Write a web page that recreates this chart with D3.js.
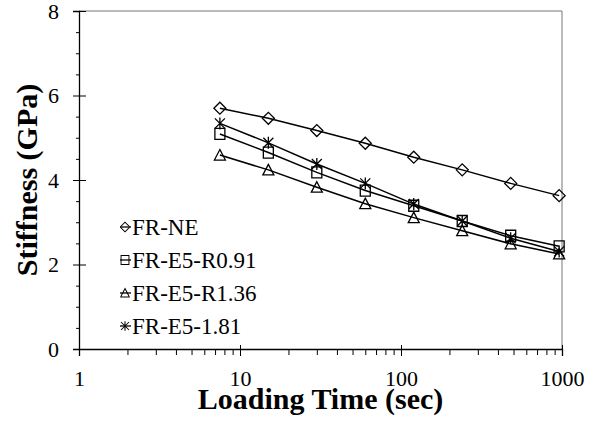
<!DOCTYPE html>
<html>
<head>
<meta charset="utf-8">
<script src="https://cdn.jsdelivr.net/npm/d3@7"></script>
<style>
  body { margin: 0; background: #fff; }
</style>
</head>
<body>
<div id="chart"></div>
<script>
// loading times (sec) and stiffness (GPa)
var times = [7.5, 15, 30, 60, 120, 240, 480, 960];
var frNE = [5.70, 5.46, 5.17, 4.87, 4.54, 4.24, 3.92, 3.63];
var frE5R091 = [5.09, 4.65, 4.18, 3.75, 3.39, 3.03, 2.68, 2.43];
var frE5R136 = [4.59, 4.24, 3.83, 3.44, 3.11, 2.80, 2.49, 2.25];
var frE5181 = [5.34, 4.88, 4.38, 3.92, 3.43, 3.03, 2.62, 2.31];
var seriesNames = ["FR-NE", "FR-E5-R0.91", "FR-E5-R1.36", "FR-E5-1.81"];
var seriesMarkers = ["diamond", "square", "triangle", "star"];
var xTicks = [1, 10, 100, 1000];
var yTicks = [0, 2, 4, 6, 8];

var FONT = "Liberation Serif, Times New Roman, serif";

var series = [frNE, frE5R091, frE5R136, frE5181].map(function(vals, i) {
  return {
    name: seriesNames[i],
    marker: seriesMarkers[i],
    points: vals.map(function(v, j) { return {t: times[j], v: v}; })
  };
});

var margin = {top: 11, right: 33, bottom: 76, left: 79},
    width = 595 - margin.left - margin.right,
    height = 425 - margin.top - margin.bottom;

var svg = d3.select("#chart").append("svg")
    .attr("width", 595)
    .attr("height", 425)
    .attr("font-family", FONT);

var g = svg.append("g")
    .attr("transform", "translate(" + margin.left + "," + margin.top + ")");

var x = d3.scaleLog().domain([1, 1000]).range([0, width]);
var y = d3.scaleLinear().domain([0, 8]).range([height, 0]);

function markerPath(type) {
  switch (type) {
    case "diamond": return "M-6,0L0,-6L6,0L0,6Z";
    case "square": return "M-5,-5.5H5V5.5H-5Z";
    case "triangle": return "M0,-5.5L5.5,5H-5.5Z";
    case "star": return "M-5,-5L5,5M-5,5L5,-5M0,-6V6";
  }
}

// frame: top and right edges
g.append("line").attr("x1", 0).attr("x2", width).attr("y1", 0).attr("y2", 0)
    .attr("stroke", "#777").attr("stroke-width", 1);
g.append("line").attr("x1", width).attr("x2", width).attr("y1", 0).attr("y2", height)
    .attr("stroke", "#777").attr("stroke-width", 1);

// y minor ticks
var yMinor = d3.range(0, 8.01, 0.5).filter(function(d) { return d % 2 !== 0; });
g.append("g")
    .call(d3.axisLeft(y).tickValues(yMinor).tickSize(3).tickFormat(""))
    .call(function(a) { a.select(".domain").remove(); });

// y axis
var yAxis = g.append("g")
    .call(d3.axisLeft(y).tickValues(yTicks).tickSize(6).tickPadding(14).tickFormat(d3.format("d")))
    .attr("font-family", FONT)
    .attr("font-size", 22);
yAxis.selectAll(".tick line").attr("x2", -6).attr("x1", 7);
yAxis.selectAll("text").attr("fill", "#000");

// x minor ticks
var xMinor = [];
[1, 10, 100].forEach(function(d) {
  for (var k = 2; k <= 9; k++) xMinor.push(d * k);
});
g.append("g")
    .attr("transform", "translate(0," + height + ")")
    .call(d3.axisBottom(x).tickValues(xMinor).tickSize(6).tickFormat(""))
    .call(function(a) { a.select(".domain").remove(); });

// x axis
var xAxis = g.append("g")
    .attr("transform", "translate(0," + height + ")")
    .call(d3.axisBottom(x).tickValues(xTicks).tickSize(7).tickFormat(d3.format("d")))
    .attr("font-family", FONT)
    .attr("font-size", 22);
xAxis.selectAll(".tick line").attr("y1", -4).attr("y2", 7);
xAxis.selectAll("text")
    .attr("y", 37)
    .attr("dy", 0)
    .attr("fill", "#000");

g.selectAll(".domain").attr("stroke", "#000").attr("stroke-width", 1.3);
g.selectAll(".tick line").attr("stroke", "#000");

// lines and markers
var line = d3.line()
    .x(function(d) { return x(d.t); })
    .y(function(d) { return y(d.v); });

var layer = g.selectAll(".series")
    .data(series)
  .enter().append("g")
    .attr("class", "series");

layer.append("path")
    .attr("d", function(s) { return line(s.points); })
    .attr("fill", "none")
    .attr("stroke", "#000")
    .attr("stroke-width", 1.5);

layer.selectAll(".marker")
    .data(function(s) { return s.points.map(function(p) { return {p: p, m: s.marker}; }); })
  .enter().append("path")
    .attr("class", "marker")
    .attr("transform", function(d) { return "translate(" + x(d.p.t) + "," + y(d.p.v) + ")"; })
    .attr("d", function(d) { return markerPath(d.m); })
    .attr("fill", "none")
    .attr("stroke", "#000")
    .attr("stroke-width", 1.3);

// legend
svg.append("clipPath").attr("id", "legclip")
  .append("rect").attr("x", -6).attr("y", -8).attr("width", 12).attr("height", 16);

var legend = svg.selectAll(".legend")
    .data(series)
  .enter().append("g")
    .attr("class", "legend")
    .attr("transform", function(d, i) { return "translate(125," + (227 + i * 33) + ")"; });

legend.append("line")
    .attr("x1", -5).attr("x2", 6)
    .attr("stroke", "#000").attr("stroke-width", 1.3);

legend.append("path")
    .attr("d", function(d) { return markerPath(d.marker); })
    .attr("transform", "scale(0.8)")
    .attr("clip-path", "url(#legclip)")
    .attr("fill", "none")
    .attr("stroke", "#000")
    .attr("stroke-width", 1.3);

legend.append("text")
    .attr("x", 7)
    .attr("y", 8)
    .attr("font-size", 23)
    .text(function(d) { return d.name; });

// axis titles
svg.append("text")
    .attr("x", margin.left + width / 2)
    .attr("y", 409)
    .attr("text-anchor", "middle")
    .attr("font-size", 30)
    .attr("font-weight", "bold")
    .text("Loading Time (sec)");

svg.append("text")
    .attr("transform", "translate(37," + (margin.top + height / 2) + ") rotate(-90)")
    .attr("text-anchor", "middle")
    .attr("font-size", 30)
    .attr("font-weight", "bold")
    .text("Stiffness (GPa)");
</script>
</body>
</html>
